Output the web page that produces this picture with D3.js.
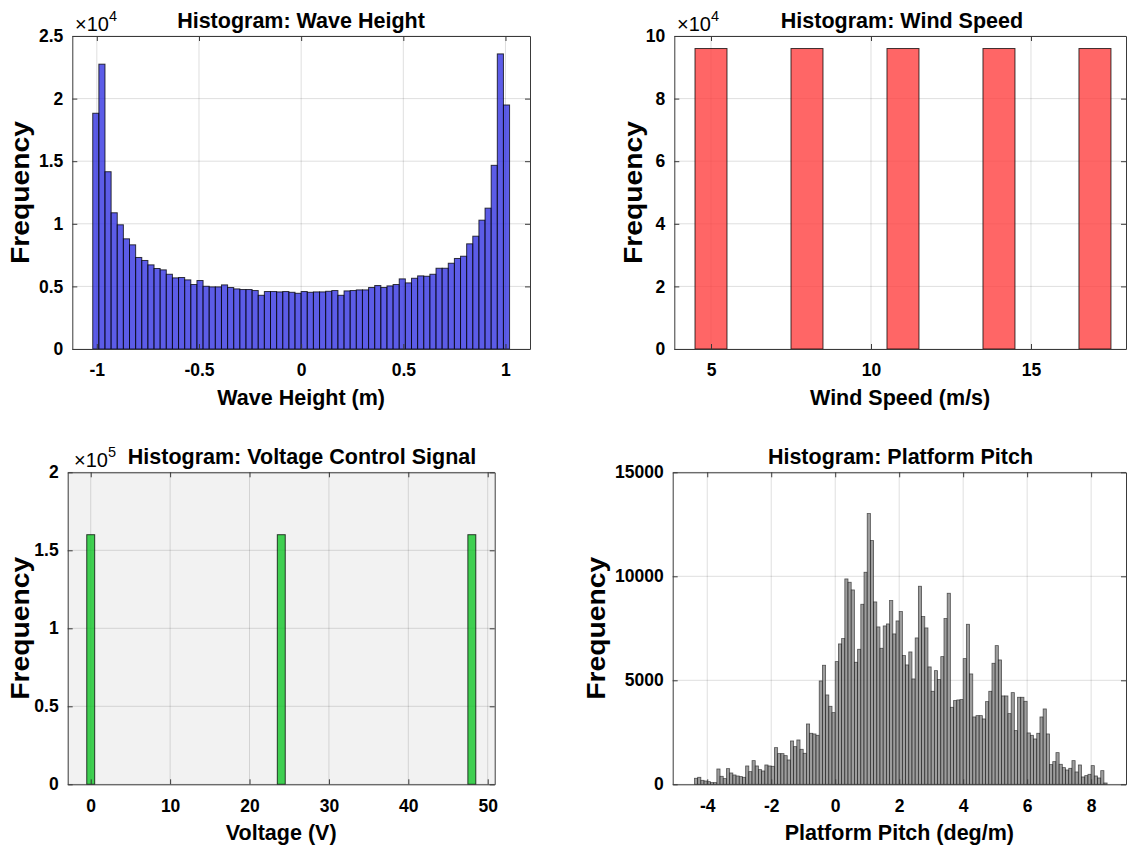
<!DOCTYPE html>
<html>
<head>
<meta charset="utf-8">
<script src="https://cdn.jsdelivr.net/npm/d3@7"></script>
<style>
  body { margin: 0; background: #fff; }
  text { font-family: "Liberation Sans", Arial, Helvetica, sans-serif; fill: #000; }
</style>
</head>
<body>
<svg id="fig" width="1127" height="847"></svg>
<script>
// ---- Wave height histogram (bin width 0.03 starting at -1.02) ----
const waveBinStart = -1.02;
const waveBinWidth = 0.03;
const waveCounts = [
  18830, 22750, 14160, 10880, 9920, 8800, 8320, 7310, 7070, 6720,
  6430, 6320, 5970, 5680, 5710, 5520, 5150, 5470, 5010, 4960,
  4960, 5120, 4910, 4800, 4750, 4750, 4670, 4290, 4590, 4590,
  4560, 4590, 4530, 4450, 4590, 4530, 4560, 4560, 4610, 4670,
  4290, 4640, 4670, 4720, 4720, 4910, 5070, 4910, 5040, 5150,
  5600, 5280, 5650, 5840, 5810, 5970, 6450, 6450, 6850, 7230,
  7410, 8400, 9010, 10290, 11250, 14670, 23570, 19490
];
const waveTicksX = [-1, -0.5, 0, 0.5, 1];
const waveTicksY = [0, 5000, 10000, 15000, 20000, 25000];

// ---- Wind speed histogram (integer bins) ----
const windCenters = [5, 8, 11, 14, 17];
const windCounts = [96000, 96000, 96000, 96000, 96000];
const windTicksX = [5, 10, 15];
const windTicksY = [0, 20000, 40000, 60000, 80000, 100000];

// ---- Voltage control signal histogram (integer bins) ----
const voltCenters = [0, 24, 48];
const voltCounts = [160000, 160000, 160000];
const voltTicksX = [0, 10, 20, 30, 40, 50];
const voltTicksY = [0, 50000, 100000, 150000, 200000];

// ---- Platform pitch histogram (bin width 0.1 starting at -4.4) ----
const pitchBinStart = -4.4;
const pitchBinWidth = 0.1;
const pitchCounts = [
  290, 337, 192, 160, 128, 80, 80, 737, 385, 273,
  753, 545, 449, 401, 369, 337, 882, 609, 1138, 882,
  705, 641, 930, 882, 866, 1763, 1475, 1475, 1379, 1170,
  2084, 1811, 2132, 1683, 1491, 2901, 2453, 2421, 2356, 4969,
  5723, 4296, 3751, 3446, 5899, 6749, 7005, 9874, 9714, 9345,
  5867, 6492, 8656, 10195, 13016, 11718, 8768, 7566, 6540, 7614,
  7710, 8833, 7230, 7855, 8304, 6188, 5739, 6364, 5065, 7037,
  9522, 8063, 7518, 5643, 4472, 5466, 5033, 6139, 7967, 9185,
  3703, 4024, 4056, 4072, 6043, 7694, 5306, 3238, 3302, 3302,
  3142, 3975, 4472, 5819, 6668, 5979, 4248, 4248, 3398, 4408,
  2581, 4184, 4184, 3991, 2469, 2356, 2180, 2453, 3238, 3623,
  2421, 946, 1090, 1523, 962, 802, 689, 769, 1138, 593,
  930, 353, 417, 481, 898, 401, 305, 657, 64
];
const pitchTicksX = [-4, -2, 0, 2, 4, 6, 8];
const pitchTicksY = [0, 5000, 10000, 15000];

// Build bin objects from edges / centres
const waveBins = waveCounts.map((c, i) => ({
  x0: waveBinStart + i * waveBinWidth, x1: waveBinStart + (i + 1) * waveBinWidth, count: c }));
const windBins = windCenters.map((c, i) => ({ x0: c - 0.5, x1: c + 0.5, count: windCounts[i] }));
const voltBins = voltCenters.map((c, i) => ({ x0: c - 0.5, x1: c + 0.5, count: voltCounts[i] }));
const pitchBins = pitchCounts.map((c, i) => ({
  x0: pitchBinStart + i * pitchBinWidth, x1: pitchBinStart + (i + 1) * pitchBinWidth, count: c }));

const svg = d3.select("#fig");
const TICK_FS = 17.5, LABEL_FS = 21.5, TITLE_FS = 21.5, YLABEL_FS = 25;

function fmtNum(v) { return String(+v.toFixed(6)); }

function drawPanel(cfg) {
  const { left, right, top, bottom } = cfg.box;
  const x = d3.scaleLinear().domain(cfg.xDomain).range([left, right]);
  const y = d3.scaleLinear().domain(cfg.yDomain).range([bottom, top]);
  const g = svg.append("g");

  // plot background
  g.append("rect").attr("x", left).attr("y", top)
    .attr("width", right - left).attr("height", bottom - top)
    .attr("fill", cfg.bg || "#fff");

  // grid
  const grid = g.append("g").attr("stroke", "#000").attr("stroke-opacity", 0.13).attr("stroke-width", 1);
  cfg.xTicks.forEach(t => grid.append("line")
    .attr("x1", x(t)).attr("x2", x(t)).attr("y1", top).attr("y2", bottom));
  cfg.yTicks.forEach(t => grid.append("line")
    .attr("x1", left).attr("x2", right).attr("y1", y(t)).attr("y2", y(t)));

  // bars
  g.append("g").selectAll("rect").data(cfg.bins).join("rect")
    .attr("x", d => x(d.x0))
    .attr("width", d => x(d.x1) - x(d.x0))
    .attr("y", d => y(d.count))
    .attr("height", d => y(0) - y(d.count))
    .attr("fill", cfg.fill)
    .attr("fill-opacity", cfg.fillOpacity)
    .attr("stroke", "#000")
    .attr("stroke-opacity", cfg.edgeOpacity)
    .attr("stroke-width", cfg.edgeWidth || 1);

  // axes (ticks pointing inward, box on)
  const axisColor = "#3a3a3a";
  const bottomAxis = d3.axisBottom(x).tickValues(cfg.xTicks).tickFormat(cfg.xFormat || fmtNum)
    .tickSizeInner(-5).tickSizeOuter(0).tickPadding(15);
  const leftAxis = d3.axisLeft(y).tickValues(cfg.yTicks).tickFormat(cfg.yFormat)
    .tickSizeInner(-5).tickSizeOuter(0).tickPadding(9);
  const topAxis = d3.axisTop(x).tickValues(cfg.xTicks).tickFormat("")
    .tickSizeInner(-5).tickSizeOuter(0);
  const rightAxis = d3.axisRight(y).tickValues(cfg.yTicks).tickFormat("")
    .tickSizeInner(-5).tickSizeOuter(0);

  const styleAxis = sel => {
    sel.selectAll("path.domain").attr("stroke", axisColor).attr("stroke-width", 1);
    sel.selectAll(".tick line").attr("stroke", axisColor).attr("stroke-width", 1);
    sel.selectAll(".tick text").attr("fill", "#000")
      .attr("font-family", '"Liberation Sans", Arial, Helvetica, sans-serif')
      .attr("font-size", TICK_FS).attr("font-weight", "bold");
  };
  g.append("g").attr("transform", `translate(0,${bottom})`).call(bottomAxis).call(styleAxis);
  g.append("g").attr("transform", `translate(${left},0)`).call(leftAxis).call(styleAxis);
  g.append("g").attr("transform", `translate(0,${top})`).call(topAxis).call(styleAxis);
  g.append("g").attr("transform", `translate(${right},0)`).call(rightAxis).call(styleAxis);

  // exponent marker
  if (cfg.exponent) {
    const ex = g.append("text").attr("x", cfg.exponent.x).attr("y", top - 5)
      .attr("font-size", 20).attr("font-weight", "normal");
    ex.append("tspan").text("\u00D710");
    ex.append("tspan").attr("dy", -10).attr("font-size", 14.5).text(cfg.exponent.power);
  }

  // title
  g.append("text").attr("x", cfg.titleX).attr("y", top - 8.5)
    .attr("text-anchor", "middle").attr("font-size", TITLE_FS).attr("font-weight", "bold")
    .text(cfg.title);

  // x label
  g.append("text").attr("x", (left + right) / 2 + (cfg.xlabelShift || 0)).attr("y", bottom + 56)
    .attr("text-anchor", "middle").attr("font-size", LABEL_FS).attr("font-weight", "bold")
    .text(cfg.xlabel);

  // y label
  g.append("text")
    .attr("transform", `translate(${cfg.ylabelX},${(top + bottom) / 2}) rotate(-90)`)
    .attr("text-anchor", "middle").attr("font-size", YLABEL_FS).attr("font-weight", "bold")
    .attr("textLength", 143).attr("lengthAdjust", "spacingAndGlyphs")
    .text("Frequency");
}

drawPanel({
  box: { left: 72.3, right: 530, top: 36, bottom: 349 },
  xDomain: [-1.12, 1.12], yDomain: [0, 25000],
  xTicks: waveTicksX, yTicks: waveTicksY,
  yFormat: v => fmtNum(v / 1e4),
  bins: waveBins, fill: "#2e2ee0", fillOpacity: 0.78, edgeOpacity: 0.75,
  exponent: { x: 75, power: "4" },
  title: "Histogram: Wave Height", titleX: 301,
  xlabel: "Wave Height (m)", ylabelX: 29
});

drawPanel({
  box: { left: 674.3, right: 1126, top: 36, bottom: 349 },
  xDomain: [3.853, 17.97], yDomain: [0, 100000],
  xTicks: windTicksX, yTicks: windTicksY,
  yFormat: v => fmtNum(v / 1e4),
  bins: windBins, fill: "#ff4040", fillOpacity: 0.8, edgeOpacity: 0.75,
  exponent: { x: 677, power: "4" },
  title: "Histogram: Wind Speed", titleX: 902,
  xlabel: "Wind Speed (m/s)", ylabelX: 642
});

drawPanel({
  box: { left: 67.7, right: 494.7, top: 472.3, bottom: 784.3 },
  xDomain: [-2.9, 50.88], yDomain: [0, 200000],
  xTicks: voltTicksX, yTicks: voltTicksY,
  yFormat: v => fmtNum(v / 1e5),
  bins: voltBins, fill: "#12c628", fillOpacity: 0.8, edgeOpacity: 0.75,
  bg: "#f2f2f2",
  exponent: { x: 74, power: "5" },
  title: "Histogram: Voltage Control Signal", titleX: 302,
  xlabel: "Voltage (V)", ylabelX: 29
});

drawPanel({
  box: { left: 672.7, right: 1126, top: 472.3, bottom: 784.3 },
  xDomain: [-5.08, 9.09], yDomain: [0, 15000],
  xTicks: pitchTicksX, yTicks: pitchTicksY,
  yFormat: v => String(v),
  bins: pitchBins, fill: "#8c8c8c", fillOpacity: 0.85, edgeOpacity: 0.6, edgeWidth: 0.8,
  title: "Histogram: Platform Pitch", titleX: 900.5,
  xlabel: "Platform Pitch (deg/m)", ylabelX: 605
});
</script>
</body>
</html>
